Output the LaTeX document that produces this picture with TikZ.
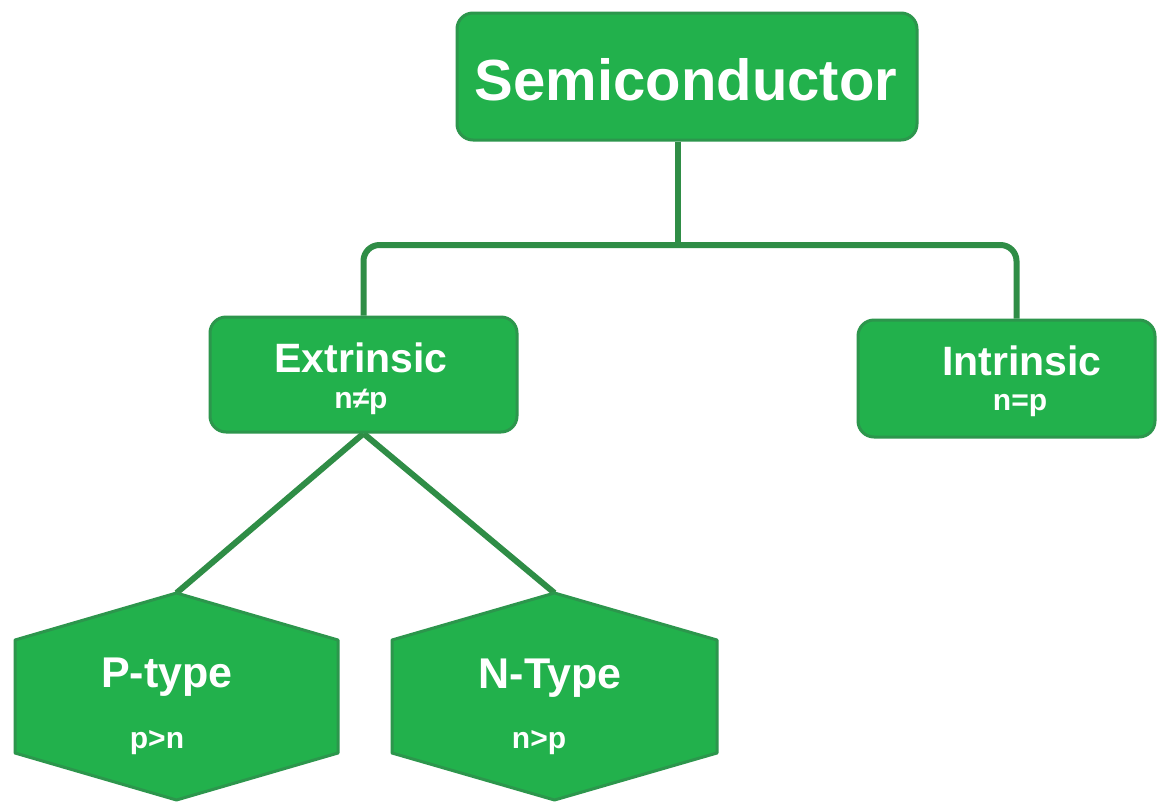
\documentclass[tikz,border=0pt]{standalone}
\usepackage{fontspec}
\setmainfont{Liberation Sans}
\usetikzlibrary{backgrounds}

\definecolor{leafgreen}{RGB}{34,177,76}
\definecolor{edgegreen}{RGB}{44,150,76}
\definecolor{linkgreen}{RGB}{47,141,70}

\tikzset{
  box/.style={draw=edgegreen, line width=3pt, fill=leafgreen, rounded corners=16pt, inner sep=0pt},
  hexpath/.style={draw=edgegreen, line width=3pt, fill=leafgreen, line join=round},
  heading/.style={text=white, font=\bfseries, inner sep=0pt, anchor=base},
  cond/.style={text=white, font=\bfseries\fontsize{30}{36}\selectfont, inner sep=0pt, anchor=base},
  link/.style={draw=linkgreen, line width=6pt}
}

\begin{document}
\begin{tikzpicture}[x=1pt, y=-1pt]
    \useasboundingbox (0, 0) rectangle (1157, 804);
    % top box
    \node[box, minimum width=460pt, minimum height=127pt] (semi) at (687, 76.5) {};
    \node[heading, font=\bfseries\fontsize{58}{68}\selectfont] (semitext) at (686, 100) {Semiconductor};
    % second row
    \node[box, minimum width=307pt, minimum height=115pt] (ext) at (363.5, 374.5) {};
    \node[heading, font=\bfseries\fontsize{41}{48}\selectfont] (exttext) at (361, 372) {Extrinsic};
    \node[cond] (extcond) at (361, 408) {n≠p};
    \node[box, minimum width=297pt, minimum height=117pt] (intr) at (1006.5, 378.5) {};
    \node[heading, font=\bfseries\fontsize{41}{48}\selectfont] (intrtext) at (1022, 375) {Intrinsic};
    \node[cond] (intrcond) at (1020, 410) {n=p};
    % hexagons
    \draw[hexpath] (15, 640) -- (176.5, 593) -- (338, 640) -- (338, 753) -- (176.5, 800) -- (15, 753) -- cycle;
    \coordinate (ptop) at (176.5, 593);
    \node[heading, font=\bfseries\fontsize{43}{50}\selectfont] (ptext) at (167, 687) {P-type};
    \node[cond] (pcond) at (157, 748) {p>n};
    \draw[hexpath] (392, 640) -- (554.5, 593) -- (717, 640) -- (717, 753) -- (554.5, 800) -- (392, 753) -- cycle;
    \coordinate (ntop) at (554.5, 593);
    \node[heading, font=\bfseries\fontsize{43}{50}\selectfont] (ntext) at (550, 688) {N-Type};
    \node[cond] (ncond) at (539, 748) {n>p};
    % connectors
    \begin{pgfonlayer}{background}
      \fill[white] (0, 0) rectangle (1157, 804);
      \coordinate (bus) at (678, 245);
      \draw[link] ([xshift=-9pt]semi.south) -- (bus);
      \draw[link, rounded corners=16pt] (ext.north) |- (bus) -| ([xshift=10pt]intr.north);
      \draw[link] (ext.south) -- (ptop);
      \draw[link] (ext.south) -- (ntop);
    \end{pgfonlayer}
\end{tikzpicture}
\end{document}
